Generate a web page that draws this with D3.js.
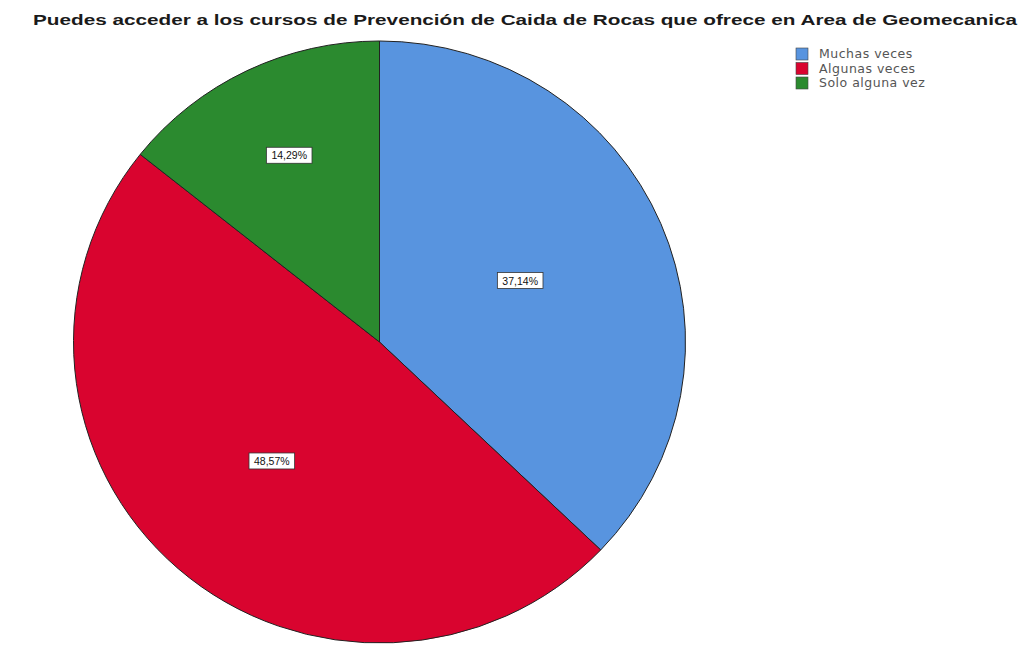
<!DOCTYPE html>
<html>
<head>
<meta charset="utf-8">
<script src="https://cdn.jsdelivr.net/npm/d3@7"></script>
<style>
  html, body { margin: 0; padding: 0; background: #ffffff; }
  svg { display: block; }
</style>
</head>
<body>
<svg id="chart" width="1022" height="647"></svg>
<script>
// Survey answers and their shares (%)
const categories = ["Muchas veces", "Algunas veces", "Solo alguna vez"];
const percentages = [37.14, 48.57, 14.29];
const sliceColors = ["#5894df", "#d9042f", "#2b8a2f"];
const chartTitle = "Puedes acceder a los cursos de Prevención de Caida de Rocas que ofrece en Area de Geomecanica";

const svg = d3.select("#chart");

// Title, stretched across the page width
svg.append("text")
  .attr("x", 525)
  .attr("y", 25)
  .attr("text-anchor", "middle")
  .attr("font-family", "Liberation Sans, Arial, sans-serif")
  .attr("font-weight", "bold")
  .attr("font-size", 14.5)
  .attr("fill", "#1a1a1a")
  .attr("textLength", 984)
  .attr("lengthAdjust", "spacingAndGlyphs")
  .text(chartTitle);

// Pie geometry (slightly flattened vertically)
const cx = 379.5, cy = 342, rx = 306, ry = 301;
const pie = d3.pie().sort(null).value(d => d)(percentages);
const arc = d3.arc().innerRadius(0).outerRadius(rx);

const g = svg.append("g")
  .attr("transform", `translate(${cx},${cy}) scale(1,${ry / rx})`);

g.selectAll("path.slice")
  .data(pie)
  .join("path")
  .attr("class", "slice")
  .attr("d", arc)
  .attr("fill", (d, i) => sliceColors[i])
  .attr("stroke", "#222")
  .attr("stroke-width", 1)
  .attr("vector-effect", "non-scaling-stroke");

// Value labels: radial placement as a fraction of the radius
const labelRadius = [0.50, 0.535, 0.68];
const fmt = v => v.toFixed(2).replace(".", ",") + "%";
const labels = svg.append("g").attr("transform", `translate(${cx},${cy})`);
pie.forEach((d, i) => {
  const mid = (d.startAngle + d.endAngle) / 2;
  const k = labelRadius[i];
  const x = Math.sin(mid) * rx * k;
  const y = -Math.cos(mid) * ry * k;
  const lg = labels.append("g").attr("transform", `translate(${x},${y - 2})`);
  const t = lg.append("text")
    .attr("text-anchor", "middle")
    .attr("dy", "0.35em")
    .attr("font-family", "Liberation Sans, Arial, sans-serif")
    .attr("font-size", 10.5)
    .attr("fill", "#111")
    .text(fmt(percentages[i]));
  const bb = t.node().getBBox();
  lg.insert("rect", "text")
    .attr("x", bb.x - 5)
    .attr("y", bb.y - 2)
    .attr("width", bb.width + 10)
    .attr("height", bb.height + 4)
    .attr("fill", "#fff")
    .attr("stroke", "#333")
    .attr("stroke-width", 0.8);
});

// Legend
const legend = svg.append("g").attr("transform", "translate(796,48)");
const rows = legend.selectAll("g.row")
  .data(categories)
  .join("g")
  .attr("class", "row")
  .attr("transform", (d, i) => `translate(0,${i * 14.5})`);
rows.append("rect")
  .attr("width", 12)
  .attr("height", 12)
  .attr("fill", (d, i) => sliceColors[i])
  .attr("stroke", "#444")
  .attr("stroke-width", 0.6);
rows.append("text")
  .attr("x", 23)
  .attr("y", 6)
  .attr("dy", "0.35em")
  .attr("font-family", "DejaVu Sans, sans-serif")
  .attr("font-size", 12.5)
  .attr("letter-spacing", 0.5)
  .attr("fill", "#555")
  .text(d => d);
</script>
</body>
</html>
